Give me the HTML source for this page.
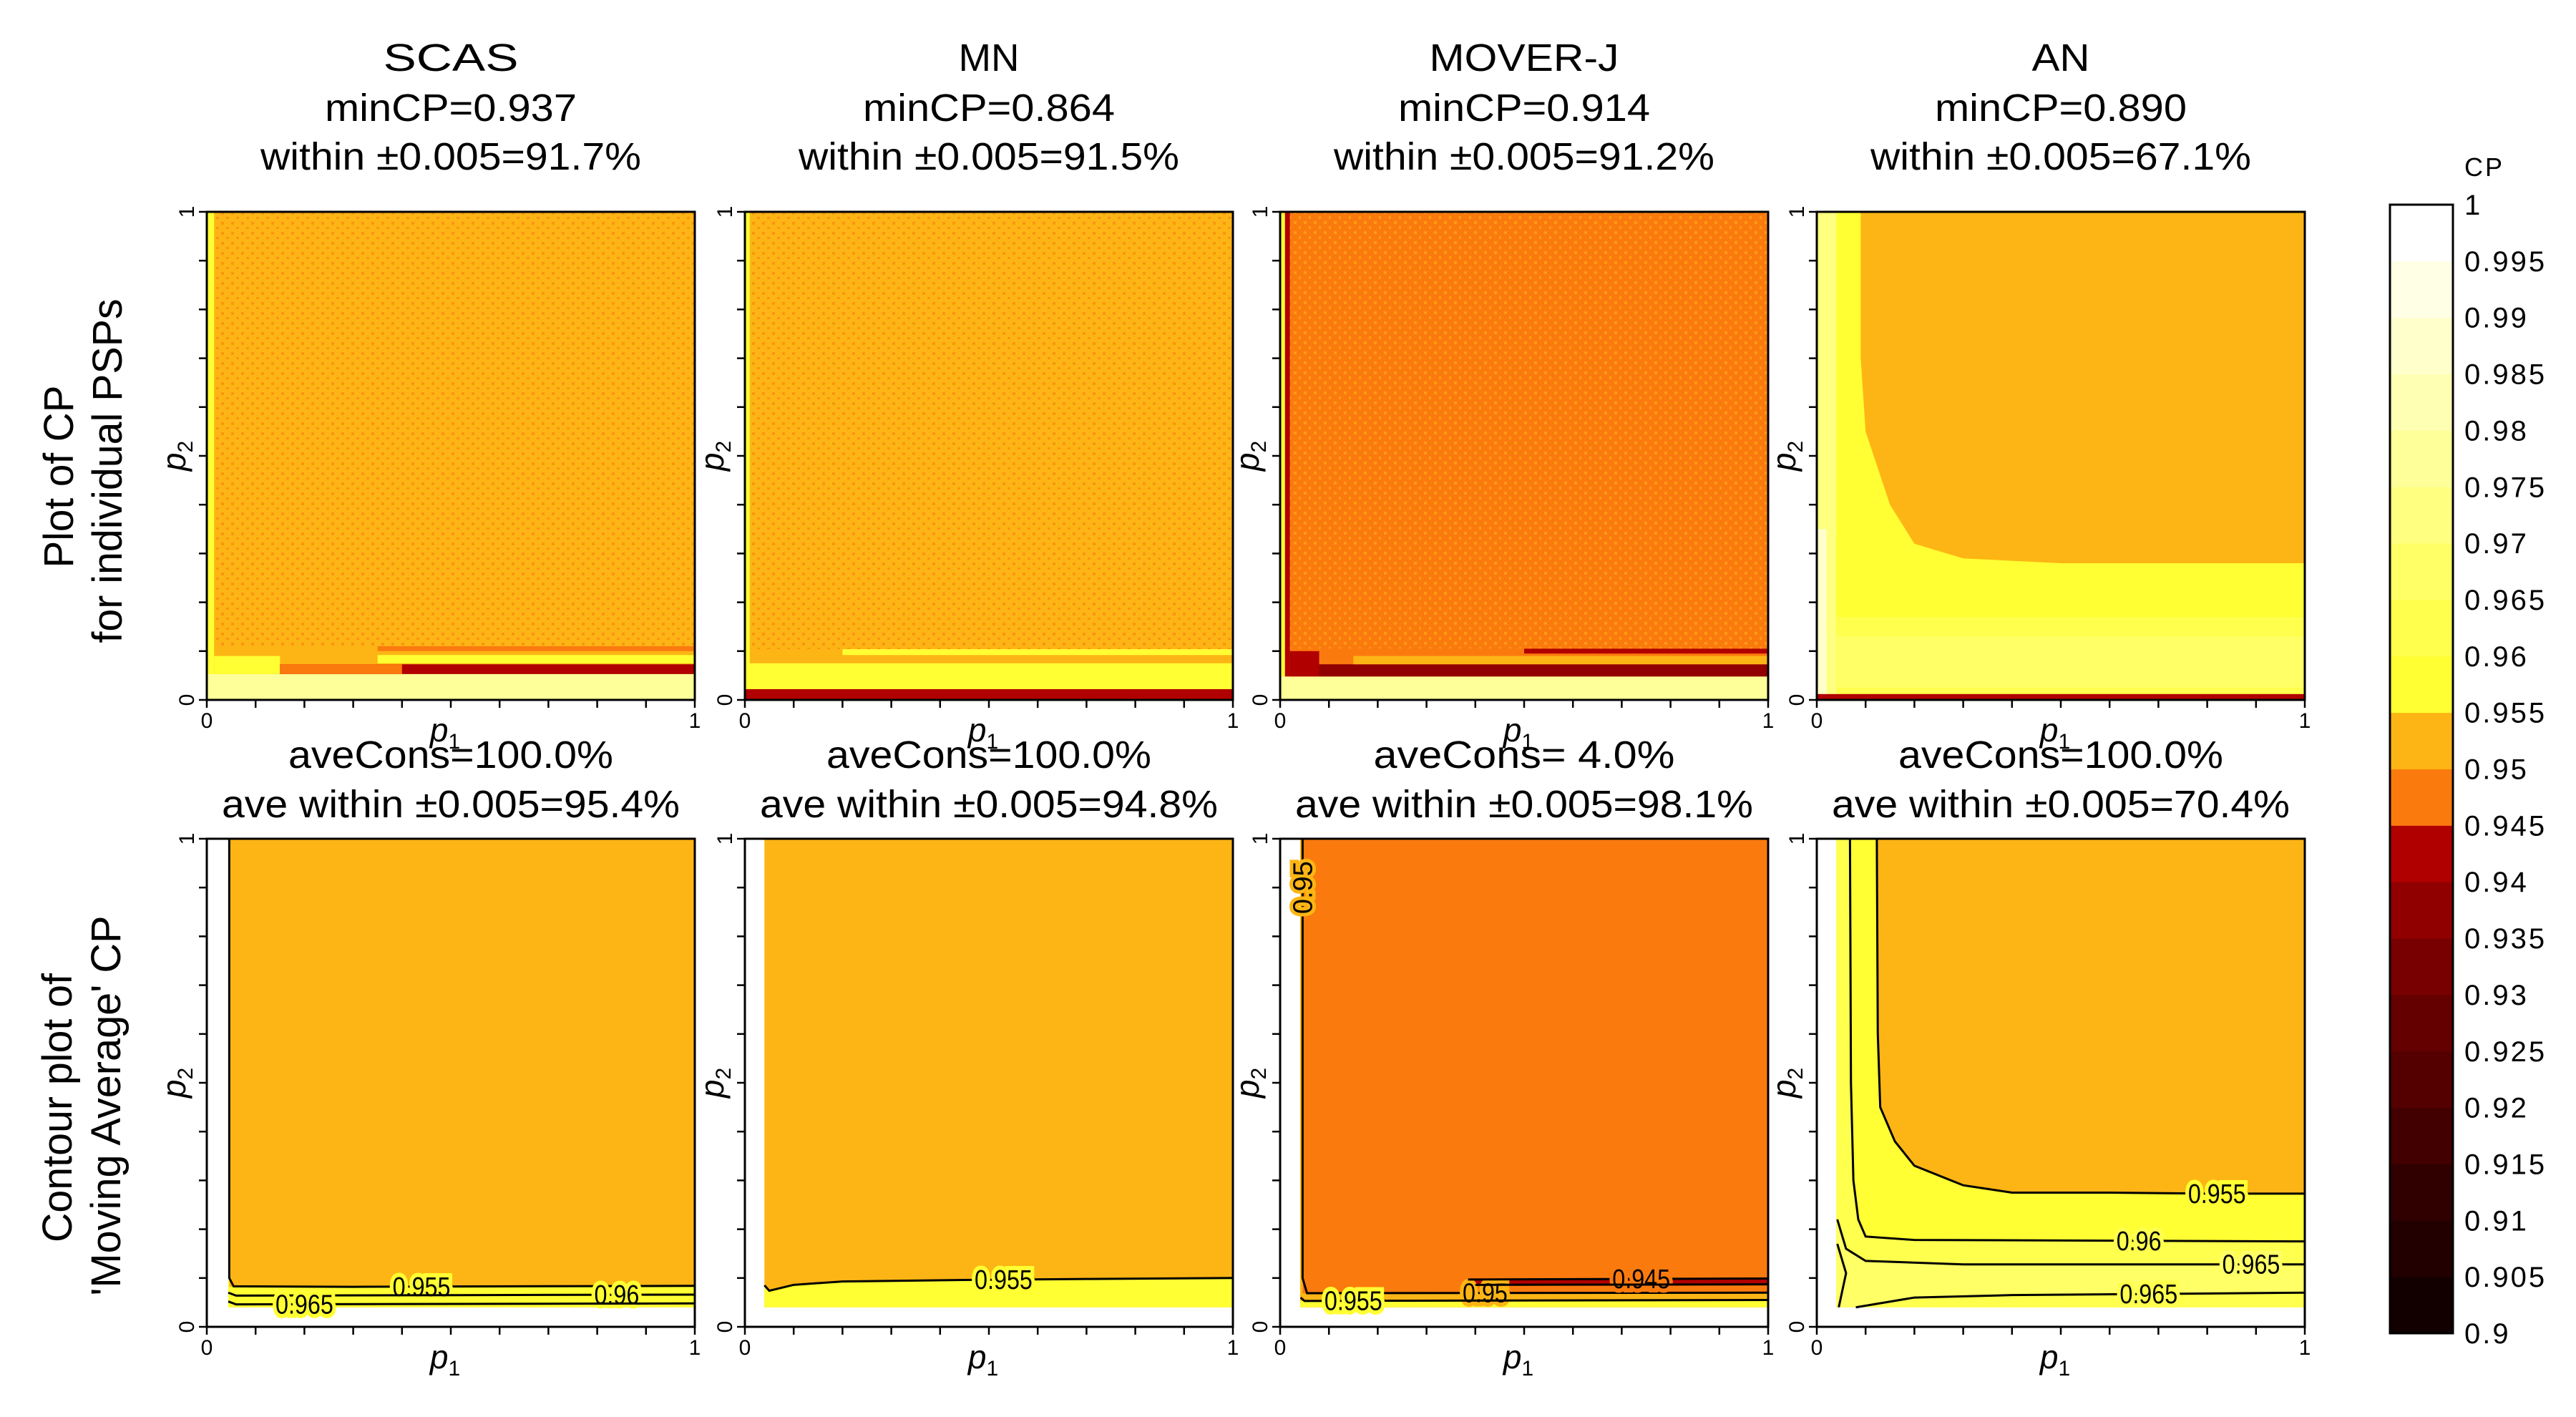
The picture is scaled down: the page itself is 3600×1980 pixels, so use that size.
<!DOCTYPE html>
<html><head><meta charset="utf-8">
<style>
html,body{margin:0;padding:0;background:#fff;}
svg{display:block;}
text{font-family:"Liberation Sans",sans-serif;fill:#000;}
</style></head>
<body>
<svg id="fig" xmlns="http://www.w3.org/2000/svg" width="3600" height="1980" viewBox="0 0 3600 1980">
<defs>
<pattern id="speckO" width="14" height="14" patternUnits="userSpaceOnUse">
<rect x="1" y="2" width="4" height="4" fill="#fb7a0e"/><rect x="8" y="9" width="4" height="3" fill="#fb7a0e"/>
</pattern>
<pattern id="speckY" width="14" height="14" patternUnits="userSpaceOnUse">
<rect x="2" y="1" width="4" height="4" fill="#fdb515"/><rect x="9" y="8" width="3" height="4" fill="#fdb515"/>
</pattern>
</defs>
<g id="root"></g>
</svg>
<script>
// ---- data ----
const methods = ['SCAS','MN','MOVER-J','AN'];
const minCP = ['0.937','0.864','0.914','0.890'];
const withinPct = ['91.7','91.5','91.2','67.1'];
const aveCons = ['100.0','100.0','  4.0','100.0'];
const aveWithin = ['95.4','94.8','98.1','70.4'];
const cbTicks = ['1','0.995','0.99','0.985','0.98','0.975','0.97','0.965','0.96','0.955','0.95','0.945','0.94','0.935','0.93','0.925','0.92','0.915','0.91','0.905','0.9'];
const bandColors = ['#120000','#220000','#300000','#420000','#540000','#640000','#780000','#900000','#b00000','#fb7a0e','#fdb515','#ffff33','#ffff4d','#ffff66','#ffff80','#ffff99','#ffffb3','#ffffcc','#ffffe6','#ffffff'];
const xTicks = [0,0.1,0.2,0.3,0.4,0.5,0.6,0.7,0.8,0.9,1];
// top row rectangles [p1a,p1b,p2a,p2b,CP]
const topRectsSCAS = [[0,1,0,1,0.952],[0,0.015,0,1,0.958],[0,1,0,0.053,0.976],[0.015,0.15,0.053,0.09,0.957],[0.15,1,0.053,0.073,0.942],[0.15,0.4,0.053,0.073,0.947],[0.35,1,0.075,0.092,0.957],[0.35,1,0.10,0.11,0.947]];
const topRectsMN = [[0,1,0,1,0.952],[0,0.01,0,1,0.958],[0,1,0.022,0.075,0.958],[0,1,0,0.022,0.944],[0.2,1,0.092,0.104,0.957]];
const topRectsMJ = [[0,1,0,1,0.947],[0,0.01,0,1,0.958],[0.01,0.02,0,1,0.941],[0,1,0,0.048,0.976],[0.02,0.08,0.048,0.1,0.943],[0.08,1,0.048,0.073,0.937],[0.15,1,0.073,0.09,0.952],[0.5,1,0.095,0.105,0.942]];
const topRectsAN = [[0,1,0,1,0.952]];
const anTopYellow = [[0,0],[1,0],[1,0.28],[0.5,0.28],[0.3,0.29],[0.2,0.32],[0.15,0.4],[0.1,0.55],[0.09,0.7],[0.09,1],[0,1]];
const topRectsAN2 = [[0,1,0,0.17,0.962],[0,1,0.025,0.13,0.967],[0,0.04,0,1,0.971],[0,0.02,0,0.35,0.986],[0,1,0,0.012,0.944]];
// speckle overlays [p1a,p1b,p2a,p2b]
const speckSCAS = [0.015,1,0.11,1];
const speckMN = [0.01,1,0.104,1];
const speckMJ = [0.02,1,0.105,1];
// bottom row fills
const botRectsSCAS = [[0.044,1,0.04,1,0.952],[0.044,1,0.04,0.082,0.957],[0.044,0.046,0.04,1,0.957]];
const botRectsMN = [[0.04,1,0.04,1,0.952]];
const botRectsMJ = [[0.041,1,0.04,1,0.947],[0.041,0.046,0.04,1,0.952],[0.041,1,0.04,0.069,0.952],[0.041,1,0.04,0.053,0.957],[0.385,1,0.086,0.097,0.942]];
const botRectsAN = [[0.04,1,0.04,1,0.957]];
// contour lines
const lnSCAS955 = [[0.046,1],[0.046,0.1],[0.055,0.083],[0.3,0.082],[1,0.084]];
const lnSCAS96 = [[0.044,0.07],[0.06,0.064],[1,0.066]];
const lnSCAS965 = [[0.044,0.052],[0.06,0.046],[1,0.048]];
const lnMN955 = [[0.04,0.085],[0.05,0.074],[0.1,0.086],[0.2,0.093],[0.45,0.096],[0.7,0.098],[1,0.1]];
const lnMJ95 = [[0.046,1],[0.046,0.1],[0.055,0.069],[1,0.07]];
const lnMJ955 = [[0.042,0.06],[0.05,0.053],[1,0.055]];
const lnMJ945a = [[0.385,0.097],[1,0.099]];
const lnMJ945b = [[0.4,0.086],[1,0.087]];
const lnAN955 = [[0.123,1],[0.125,0.6],[0.13,0.45],[0.16,0.38],[0.2,0.33],[0.3,0.29],[0.4,0.275],[0.6,0.275],[0.8,0.273],[1,0.273]];
const lnAN96 = [[0.068,1],[0.07,0.5],[0.075,0.3],[0.085,0.22],[0.1,0.185],[0.2,0.178],[1,0.175]];
const lnAN965a = [[0.042,0.22],[0.06,0.16],[0.1,0.135],[0.3,0.128],[1,0.128]];
const lnAN965b = [[0.08,0.04],[0.2,0.06],[0.4,0.065],[1,0.07]];
const lnANloop = [[0.042,0.17],[0.06,0.11],[0.045,0.04]];
const titleWidths = [189,85,265,81];

// ---- layout ----
const lefts=[289,1041,1789,2539], W=682, tops=[296,1172], H=682;
const NS='http://www.w3.org/2000/svg';
const root=document.getElementById('root');
function el(tag,attrs,parent,text){const e=document.createElementNS(NS,tag);for(const k in attrs)e.setAttribute(k,attrs[k]);if(text!==undefined)e.textContent=text;(parent||root).appendChild(e);return e;}
function colorOf(v){let i=Math.floor((v-0.9)/0.005+1e-6);i=Math.max(0,Math.min(19,i));return bandColors[i];}
function sx(c,p){return lefts[c]+p*W;}
function sy(r,p){return tops[r]+H-p*H;}
function rects(c,r,arr,g,name){arr.forEach(d=>{const e=el('rect',{x:sx(c,d[0]),y:sy(r,d[3]),width:(d[1]-d[0])*W,height:(d[3]-d[2])*H,fill:colorOf(d[4])},g);

});}
function poly(c,r,pts,v,g,name){const e=el('polygon',{points:pts.map(p=>sx(c,p[0])+','+sy(r,p[1])).join(' '),fill:colorOf(v)},g);

}
function speck(c,r,d,pat,g){const e=el('rect',{x:sx(c,d[0]),y:sy(r,d[3]),width:(d[1]-d[0])*W,height:(d[3]-d[2])*H,fill:'url(#'+pat+')',opacity:0.55},g);

}
function interp(pts,p1){for(let i=0;i<pts.length-1;i++){const a=pts[i],b=pts[i+1];if((p1-a[0])*(p1-b[0])<=0&&a[0]!==b[0]){return a[1]+(b[1]-a[1])*(p1-a[0])/(b[0]-a[0]);}}return pts[pts.length-1][1];}
function contour(c,r,pts,g,label,lp,bg){const e=el('polyline',{points:pts.map(p=>sx(c,p[0])+','+sy(r,p[1])).join(' '),fill:'none',stroke:'#000','stroke-width':3},g);


if(label){const y=sy(r,interp(pts,lp))+13;const x=sx(c,lp);const t=el('text',{x:0,y:0,'text-anchor':'middle','font-size':38,stroke:bg,'stroke-width':12,'paint-order':'stroke',transform:'translate('+x+','+y+') scale(0.85,1)'},g,label);

}}

function axes(c,r,g){
 const L=lefts[c],T=tops[r];
 const f=el('rect',{x:L,y:T,width:W,height:H,fill:'none',stroke:'#000','stroke-width':3},g);
 
 
 xTicks.forEach(v=>{const t=el('line',{x1:sx(c,v),x2:sx(c,v),y1:T+H,y2:T+H+11,stroke:'#000','stroke-width':2.5},g);
  
  
  const u=el('line',{x1:L-11,x2:L,y1:sy(r,v),y2:sy(r,v),stroke:'#000','stroke-width':2.5},g);
  
  });
 [['0',0],['1',1]].forEach(([s,v])=>{
  const xt=el('text',{x:sx(c,v),y:T+H+39,'text-anchor':'middle','font-size':30},g,s);
  
  
  const yy=sy(r,v);
  const yt=el('text',{x:0,y:0,'text-anchor':'middle','font-size':30,transform:'translate('+(L-18)+','+yy+') rotate(-90)'},g,s);
  
  });
 const px=el('text',{x:L+W/2-8,y:T+H+58,'font-size':46,'font-style':'italic','text-anchor':'middle'},g);
 
 
 el('tspan',{},px,'p');el('tspan',{dy:10,'font-size':30,'font-style':'normal'},px,'1');
 const py=el('text',{x:0,y:0,'font-size':46,'font-style':'italic','text-anchor':'middle',transform:'translate('+(L-30)+','+(T+H/2)+') rotate(-90)'},g);
 
 
 el('tspan',{},py,'p');el('tspan',{dy:10,'font-size':30,'font-style':'normal'},py,'2');
}
function panelGroup(c,r){const g=el('g',{});return g;}

// top row
const topSets=[topRectsSCAS,topRectsMN,topRectsMJ,topRectsAN];
for(let c=0;c<4;c++){const g=panelGroup(c,0);
 rects(c,0,topSets[c],g,'cp-cell-block');
 if(c===0)speck(c,0,speckSCAS,'speckO',g);
 if(c===1)speck(c,0,speckMN,'speckO',g);
 if(c===2)speck(c,0,speckMJ,'speckY',g);
 if(c===3){poly(c,0,anTopYellow,0.957,g,'cp-yellow-region');rects(c,0,topRectsAN2,g,'cp-cell-block');}
 axes(c,0,g);
 const cx=lefts[c]+W/2;
 const t1=el('text',{x:cx,y:99,'text-anchor':'middle','font-size':54,textLength:titleWidths[c],lengthAdjust:'spacingAndGlyphs'},g,methods[c]);
 
 const t2=el('text',{x:cx,y:169,'text-anchor':'middle','font-size':54,textLength:352,lengthAdjust:'spacingAndGlyphs'},g,'minCP='+minCP[c]);
 
 const t3=el('text',{x:cx,y:237,'text-anchor':'middle','font-size':54,textLength:532,lengthAdjust:'spacingAndGlyphs'},g,'within \u00b10.005='+withinPct[c]+'%');
 
}
// bottom row
const botSets=[botRectsSCAS,botRectsMN,botRectsMJ,botRectsAN];
for(let c=0;c<4;c++){const g=panelGroup(c,1);
 rects(c,1,botSets[c],g,'contour-fill');
 if(c===1)poly(c,1,lnMN955.concat([[1,0.04],[0.04,0.04]]),0.957,g,'contour-fill');
 if(c===3){
  poly(c,1,lnAN955.concat([[1,1]]),0.952,g,'contour-fill');
  poly(c,1,lnAN96.concat([[1,0.04],[0.04,0.04],[0.04,1]]),0.962,g,'contour-fill');
  poly(c,1,lnAN965a.concat(lnAN965b.slice().reverse()).concat([[0.04,0.04]]),0.967,g,'contour-fill');
 }
 if(c===0){contour(c,1,lnSCAS955,g,'0.955',0.44,'#ffff33');contour(c,1,lnSCAS96,g,'0.96',0.84,'#ffff33');contour(c,1,lnSCAS965,g,'0.965',0.2,'#ffff33');}
 if(c===1){contour(c,1,lnMN955,g,'0.955',0.53,'#ffff33');}
 if(c===2){contour(c,1,lnMJ95,g,'0.95',0.42,'#fdb515');contour(c,1,lnMJ955,g,'0.955',0.15,'#ffff33');contour(c,1,lnMJ945a,g,'0.945',0.74,'#fb7a0e');contour(c,1,lnMJ945b,g,null);
  const vl=el('text',{x:0,y:0,'font-size':38,'text-anchor':'middle',stroke:'#fdb515','stroke-width':10,'paint-order':'stroke',transform:'translate('+(sx(c,0.046)+13)+','+sy(1,0.9)+') rotate(-90)'},g,'0.95');
  }
 if(c===3){contour(c,1,lnAN955,g,'0.955',0.82,'#ffff33');contour(c,1,lnAN96,g,'0.96',0.66,'#ffff4d');contour(c,1,lnAN965a,g,'0.965',0.89,'#ffff66');contour(c,1,lnAN965b,g,'0.965',0.68,'#ffff4d');contour(c,1,lnANloop,g,null);}
 axes(c,1,g);
 const cx=lefts[c]+W/2;
 const t1=el('text',{x:cx,y:1073,'text-anchor':'middle','font-size':54,textLength:(c===2?421:454),lengthAdjust:'spacingAndGlyphs','xml:space':'preserve'},g,'aveCons='+aveCons[c]+'%');
 
 const t2=el('text',{x:cx,y:1142,'text-anchor':'middle','font-size':54,textLength:640,lengthAdjust:'spacingAndGlyphs'},g,'ave within \u00b10.005='+aveWithin[c]+'%');
 
}
// row labels
function rowLabel(txt,x,y,len,name){const t=el('text',{x:0,y:0,'text-anchor':'middle','font-size':58,textLength:len,lengthAdjust:'spacingAndGlyphs',transform:'translate('+x+','+y+') rotate(-90)'},root,txt);
 }
rowLabel('Plot of CP',102,666,255,'row-label-top-line1');
rowLabel('for individual PSPs',170,658,481,'row-label-top-line2');
rowLabel('Contour plot of',100,1548,376,'row-label-bottom-line1');
rowLabel("'Moving Average' CP",168,1545,531,'row-label-bottom-line2');
// colorbar
const cbX=3340,cbW=88,cbTop=286,cbBot=1863,nb=20,bh=(cbBot-cbTop)/nb;
const cbg=el('g',{});
for(let i=0;i<nb;i++){const b=el('rect',{x:cbX,y:cbBot-(i+1)*bh,width:cbW,height:bh+0.5,fill:bandColors[i]},cbg);
 }
const cf=el('rect',{x:cbX,y:cbTop,width:cbW,height:cbBot-cbTop,fill:'none',stroke:'#000','stroke-width':3},cbg);

cbTicks.forEach((s,i)=>{const t=el('text',{x:3444,y:cbTop+i*bh+14,'font-size':40,'letter-spacing':3},cbg,s);
 });
const cpT=el('text',{x:3444,y:246,'font-size':36,'letter-spacing':3},cbg,'CP');

</script>
</body></html>
